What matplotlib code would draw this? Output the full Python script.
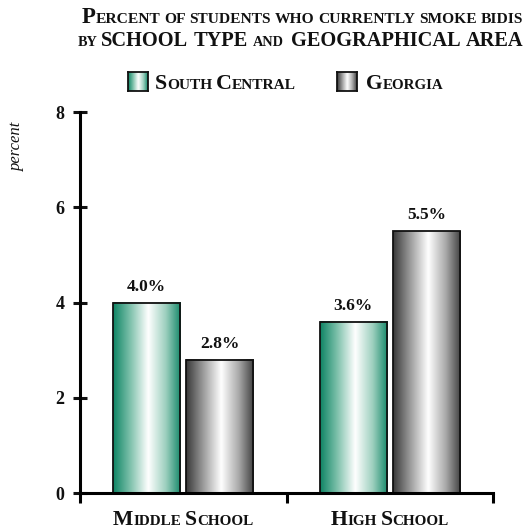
import numpy as np
import matplotlib
matplotlib.use("Agg")
import matplotlib.pyplot as plt
from matplotlib.colors import LinearSegmentedColormap
from matplotlib.patches import Rectangle
from matplotlib.transforms import IdentityTransform

# ---- data ----
groups = ["Middle School", "High School"]
series = ["South Central", "Georgia"]
south_central = [4.0, 3.6]
georgia = [2.8, 5.5]
yticks = [0, 2, 4, 6, 8]
title_lines = ["Percent of students who currently smoke bidis",
               "by SCHOOL TYPE and  GEOGRAPHICAL AREA"]
y_label = "percent"

FONT = "Liberation Serif"
W, H = 525, 530
fig = plt.figure(figsize=(W / 100, H / 100), dpi=100)
renderer = fig.canvas.get_renderer()

green_cmap = LinearSegmentedColormap.from_list(
    "teal_tube", [(0, "#0e8464"), (0.25, "#7cc0aa"), (0.52, "#ffffff"),
                  (0.78, "#9ccfbe"), (1, "#16896a")])
grey_cmap = LinearSegmentedColormap.from_list(
    "grey_tube", [(0, "#383838"), (0.25, "#9a9a9a"), (0.52, "#ffffff"),
                  (0.78, "#a8a8a8"), (1, "#404040")])


def text_advance(s, fs, weight):
    """Approximate advance width (px) of a string."""
    probe = fig.text(0, 0, s + "H", fontsize=fs, family=FONT, weight=weight,
                     transform=IdentityTransform())
    ref = fig.text(0, 0, "H", fontsize=fs, family=FONT, weight=weight,
                   transform=IdentityTransform())
    w = probe.get_window_extent(renderer).width - ref.get_window_extent(renderer).width
    probe.remove()
    ref.remove()
    return w


def split_runs(word):
    runs = []
    for ch in word:
        big = not ch.islower()
        if runs and runs[-1][1] == big:
            runs[-1][0] += ch
        else:
            runs.append([ch, big])
    return runs


def small_caps(x, y, text, size, ratio=0.7, ha="left", weight="bold",
               color="#111111"):
    """Draw text in small caps; x, y are pixels from the top-left corner,
    y is the baseline."""
    pieces = []
    cursor = 0.0
    last_fs = size
    for word in text.split(" "):
        if word == "":
            cursor += 0.25 * last_fs * 100 / 72
            continue
        for s, big in split_runs(word):
            fs = size if big else size * ratio
            t = fig.text(0, 0, s.upper(), fontsize=fs, family=FONT,
                         weight=weight, color=color,
                         transform=IdentityTransform(), va="baseline",
                         ha="left")
            pieces.append((t, cursor))
            cursor += text_advance(s.upper(), fs, weight)
            last_fs = fs
        space = 0.25 * last_fs * 100 / 72
        cursor += space
    cursor -= space
    x0 = {"left": x, "center": x - cursor / 2, "right": x - cursor}[ha]
    for t, off in pieces:
        t.set_position((x0 + off, H - y))


# ---- axes ----
ax = fig.add_axes([80 / W, 37 / H, 413 / W, 381 / H])

centers = np.arange(len(groups)) + 0.5
bar_w = 0.325
offset = 0.177


def tube_bar(xc, h, cmap):
    x0 = xc - bar_w / 2
    grad = np.linspace(0, 1, 256)[None, :]
    ax.imshow(grad, cmap=cmap, extent=(x0, x0 + bar_w, 0, h), aspect="auto",
              interpolation="bicubic", zorder=2)
    ax.add_patch(Rectangle((x0, 0), bar_w, h, fill=False,
                           edgecolor="#111111", lw=1.3, zorder=3))
    ax.annotate(f"{h:.1f}%", (xc, h), xytext=(0, 8.5),
                textcoords="offset points", ha="center", va="baseline",
                fontsize=12.5, family=FONT, weight="bold", color="#111111")


for c, v in zip(centers, south_central):
    tube_bar(c - offset, v, green_cmap)
for c, v in zip(centers, georgia):
    tube_bar(c + offset, v, grey_cmap)

ax.set_xlim(0, 2)
ax.set_ylim(0, 8)
for side in ("top", "right"):
    ax.spines[side].set_visible(False)
for side in ("left", "bottom"):
    ax.spines[side].set_linewidth(2.2)
    ax.spines[side].set_color("#000000")
    ax.spines[side].set_zorder(5)

ax.set_yticks(yticks)
ax.set_yticklabels([str(t) for t in yticks], family=FONT, weight="bold",
                   fontsize=13)
ax.tick_params(axis="y", direction="inout", length=10, width=2.2, pad=6,
               colors="#111111")
ax.set_xticks([0, 1, 2])
ax.set_xticklabels([])
ax.tick_params(axis="x", direction="out", length=7, width=2.2)

# category labels
for c, g in zip(centers, groups):
    xpix = ax.transData.transform((c, 0))[0]
    small_caps(xpix, 525, g, 15.6, ha="center")

# y-axis label
fig.text(17 / W, 1 - 146 / H, y_label, rotation=90, ha="center", va="center",
         family=FONT, style="italic", fontsize=12, color="#111111")

# title
small_caps(523, 23, title_lines[0], 16.4, ratio=0.68, ha="right")
small_caps(523, 46, title_lines[1], 14.7, ratio=0.7, ha="right")

# legend
def swatch(x0, x1, y0, y1, cmap):
    sax = fig.add_axes([x0 / W, 1 - y1 / H, (x1 - x0) / W, (y1 - y0) / H])
    sax.imshow(np.linspace(0, 1, 64)[None, :], cmap=cmap, aspect="auto",
               interpolation="bicubic")
    sax.set_xticks([])
    sax.set_yticks([])
    for sp in sax.spines.values():
        sp.set_linewidth(1.3)
        sp.set_color("#111111")


swatch(128, 148, 72, 91, green_cmap)
small_caps(155, 89, series[0], 15.8)
swatch(337, 357, 72, 91, grey_cmap)
small_caps(366, 89, series[1], 15.5)

fig.savefig("out.png", dpi=100)
